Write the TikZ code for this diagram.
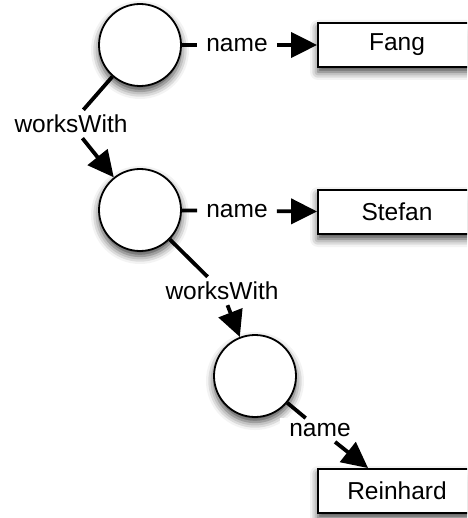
\documentclass[tikz,border=0pt]{standalone}
\usepackage{fontspec}
\setmainfont{Liberation Sans}
\usetikzlibrary{arrows.meta,shadows.blur}
\begin{document}
\begin{tikzpicture}[x=1pt,y=-1pt,
  softshadow/.style={blur shadow={shadow xshift=0pt, shadow yshift=-5pt,
      shadow blur radius=8pt, shadow opacity=75}},
  res/.style={circle, draw, line width=1.8pt, fill=white,
      minimum size=82pt, inner sep=0pt, softshadow},
  lit/.style={rectangle, draw, line width=1.8pt, fill=white,
      minimum width=158pt, minimum height=44pt, softshadow,
      font=\fontsize{24.5}{28}\selectfont},
  lab/.style={fill=white, inner xsep=9pt, inner ysep=5pt,
      font=\fontsize{24.5}{28}\selectfont},
  edge/.style={line width=3.8pt, -{Triangle[length=26pt,width=25pt]}}
]
\clip (0,0) rectangle (467,518);
\useasboundingbox (0,0) rectangle (467,518);

% resources
\node[res] (c1) at (140,45) {};
\node[res] (c2) at (140,210) {};
\node[res] (c3) at (255,376) {};

% literals
\node[lit] (fang) at (397,45) {Fang};
\node[lit] (stefan) at (397,212) {Stefan};
\node[lit] (reinhard) at (397,491) {Reinhard};

% edge labels
\node[lab] (n1) at (237,45) {name};
\node[lab] (n2) at (237,211) {name};
\node[lab] (n3) at (320,430) {name};
\node[lab] (w1) at (71,124) {worksWith};
\node[lab] (w2) at (222,291) {worksWith};

% properties
\draw[edge] (c1) -- (n1) -- (fang);
\draw[edge] (c2) -- (n2) -- (stefan);
\draw[edge] (c3) -- (n3) -- (reinhard);
\draw[edge] (c1) -- (w1) -- (c2);
\draw[edge] (c2) -- (w2) -- (c3);
\end{tikzpicture}
\end{document}
